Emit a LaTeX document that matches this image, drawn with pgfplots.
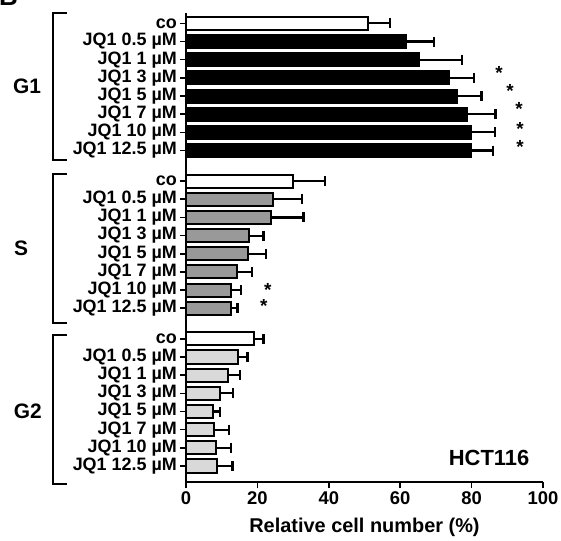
\documentclass[border=0pt]{standalone}
\usepackage{fontspec}
\setmainfont{Liberation Sans}
\usepackage{pgfplots}
\pgfplotsset{compat=1.18}
\definecolor{midgray}{HTML}{999999}
\definecolor{lightgray}{HTML}{D9D9D9}
\pgfplotsset{
  mybar/.style={xbar, bar shift=0pt, draw=black, line width=2bp,
    error bars/.cd, x dir=plus, x explicit,
    error mark=|,
    error bar style={line width=2.2bp, black, solid},
    error mark options={line width=2.2bp, mark size=5bp, black, solid}},
}
\begin{document}
\begin{tikzpicture}
\begin{axis}[
  scale only axis, width=357bp, height=469bp,
  xmin=0, xmax=100, ymin=-0.57, ymax=25.24, y dir=reverse,
  axis x line=bottom, axis y line=left,
  axis line style={-, line width=1.8bp},
  every tick/.style={black, line width=1.6bp},
  major tick length=6bp, tick align=outside,
  xtick={0,20,40,60,80,100},
  ytick={0,1,2,3,4,5,6,7,8.68,9.68,10.68,11.68,12.68,13.68,14.68,15.68,17.36,18.36,19.36,20.36,21.36,22.36,23.36,24.36},
  yticklabels={co,JQ1 0.5 µM,JQ1 1 µM,JQ1 3 µM,JQ1 5 µM,JQ1 7 µM,JQ1 10 µM,JQ1 12.5 µM,
               co,JQ1 0.5 µM,JQ1 1 µM,JQ1 3 µM,JQ1 5 µM,JQ1 7 µM,JQ1 10 µM,JQ1 12.5 µM,
               co,JQ1 0.5 µM,JQ1 1 µM,JQ1 3 µM,JQ1 5 µM,JQ1 7 µM,JQ1 10 µM,JQ1 12.5 µM},
  /pgf/number format/assume math mode=true,
  yticklabel style={font=\fontsize{18}{18}\selectfont\bfseries, inner sep=3bp},
  xticklabel style={font=\fontsize{18.5}{18}\selectfont\bfseries},
  xlabel={Relative cell number (\%)},
  xlabel style={font=\fontsize{20}{20}\selectfont\bfseries, yshift=-7bp},
  clip=false,
  bar width=0.72,
]
% G1
\addplot[fill=white, mybar] coordinates {(51.1,0) +- (6.0,0)};
\addplot[fill=black, mybar] coordinates {
  (61.6,1) +- (7.9,0)
  (65.4,2) +- (11.8,0)
  (73.7,3) +- (7.0,0)
  (76.0,4) +- (6.8,0)
  (78.6,5) +- (8.1,0)
  (79.8,6) +- (6.8,0)
  (79.8,7) +- (6.1,0)
};
% S
\addplot[fill=white, mybar] coordinates {(30.1,8.68) +- (8.8,0)};
\addplot[fill=midgray, mybar] coordinates {
  (24.5,9.68) +- (7.9,0)
  (23.7,10.68) +- (9.2,0)
  (17.6,11.68) +- (4.1,0)
  (17.3,12.68) +- (5.1,0)
  (14.4,13.68) +- (4.0,0)
  (12.5,14.68) +- (2.9,0)
  (12.5,15.68) +- (1.9,0)
};
% G2
\addplot[fill=white, mybar] coordinates {(19.0,17.36) +- (2.7,0)};
\addplot[fill=lightgray, mybar] coordinates {
  (14.7,18.36) +- (2.5,0)
  (11.9,19.36) +- (3.2,0)
  (9.5,20.36) +- (3.6,0)
  (7.7,21.36) +- (1.8,0)
  (7.9,22.36) +- (4.1,0)
  (8.4,23.36) +- (4.1,0)
  (8.6,24.36) +- (4.4,0)
};
% significance asterisks
\addplot[draw=none, mark=none, nodes near coords={*},
  every node near coord/.append style={anchor=center, inner sep=0pt, font=\fontsize{19}{19}\selectfont\bfseries}]
  coordinates {(87.7,2.73) (90.8,3.73) (93.3,4.73) (93.6,5.82) (93.6,6.82) (22.9,14.69) (21.8,15.58)};
% brackets
\draw[line width=1.8bp] (axis cs:-33.3,-0.57) -- (axis cs:-37.3,-0.57) -- (axis cs:-37.3,7.52) -- (axis cs:-33.3,7.52);
\draw[line width=1.8bp] (axis cs:-33.3,8.31) -- (axis cs:-37.3,8.31) -- (axis cs:-37.3,16.51) -- (axis cs:-33.3,16.51);
\draw[line width=1.8bp] (axis cs:-33.3,17.14) -- (axis cs:-37.3,17.14) -- (axis cs:-37.3,25.34) -- (axis cs:-33.3,25.34);
\node[font=\fontsize{21}{21}\selectfont\bfseries] at (axis cs:-44.5,3.47) {G1};
\node[font=\fontsize{21}{21}\selectfont\bfseries] at (axis cs:-46.2,12.36) {S};
\node[font=\fontsize{21}{21}\selectfont\bfseries] at (axis cs:-44.3,21.33) {G2};
\node[font=\fontsize{22}{22}\selectfont\bfseries] at (axis cs:84.9,23.89) {HCT116};
\end{axis}
\node[anchor=base west, inner sep=0pt, font=\fontsize{26}{26}\selectfont\bfseries] at ([xshift=-187bp,yshift=7bp]current axis.north west) {B};
\pgfresetboundingbox
\useasboundingbox ([xshift=-186bp,yshift=-59bp]current axis.south west) rectangle ([xshift=18bp,yshift=13bp]current axis.north east);
\end{tikzpicture}
\end{document}
